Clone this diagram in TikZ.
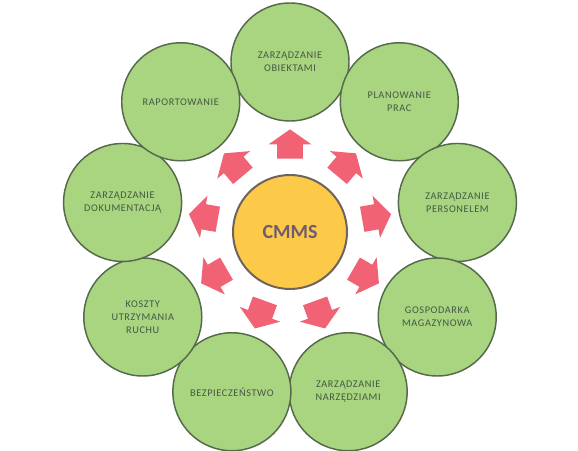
\documentclass[tikz,border=0pt]{standalone}
\usepackage{fontspec}
\setmainfont{Carlito}
\newfontfamily\spacedfont[LetterSpace=6]{Carlito}
\usetikzlibrary{trees,shapes.arrows}
\definecolor{leafgreen}{RGB}{169,212,128}
\definecolor{leafedge}{RGB}{85,105,75}
\definecolor{leaftext}{RGB}{68,88,68}
\definecolor{hubyellow}{RGB}{252,201,72}
\definecolor{hubedge}{RGB}{110,100,92}
\definecolor{hubtext}{RGB}{112,92,112}
\definecolor{arrowpink}{RGB}{240,98,116}
\begin{document}
\begin{tikzpicture}[x=0.75pt, y=0.75pt,
  area/.style={circle, draw=leafedge, line width=1.1pt, fill=leafgreen, minimum size=88.5pt, inner sep=0pt, align=center, text=leaftext, font=\spacedfont\fontsize{7.7}{9.75}\selectfont},
  hub/.style={circle, draw=hubedge, line width=1.5pt, fill=hubyellow, minimum size=85.5pt, text=hubtext, font=\bfseries\fontsize{15}{18}\selectfont},
  pointer/.style={single arrow, fill=arrowpink, inner xsep=0pt, inner ysep=9.4pt, minimum height=22pt, single arrow head extend=6.5pt, single arrow tip angle=110},
  level 1/.style={level distance=127.5pt, sibling angle=40, clockwise from=90},
  edge from parent/.style={draw=none}]
\useasboundingbox (0,0) rectangle (578,450);
\node[hub] (cmms) at (290,218) {CMMS}
    child {node[area] (obiekty) {ZARZĄDZANIE\\OBIEKTAMI}}
    child {node[area] (planowanie) {PLANOWANIE\\PRAC}}
    child {node[area] (personel) {ZARZĄDZANIE\\PERSONELEM}}
    child {node[area] (magazyn) {GOSPODARKA\\MAGAZYNOWA}}
    child {node[area] (narzedzia) {ZARZĄDZANIE\\NARZĘDZIAMI}}
    child {node[area] (bhp) {BEZPIECZEŃSTWO}}
    child {node[area] (koszty) {KOSZTY\\UTRZYMANIA\\RUCHU}}
    child {node[area] (dokumenty) {ZARZĄDZANIE\\DOKUMENTACJĄ}}
    child {node[area] (raporty) {RAPORTOWANIE}};
\foreach \a [count=\i] in {90,50,...,-230}
    \path (cmms.center) ++(\a:83.5) node[pointer, rotate=\a] (pointer\i) {};
\end{tikzpicture}
\end{document}
